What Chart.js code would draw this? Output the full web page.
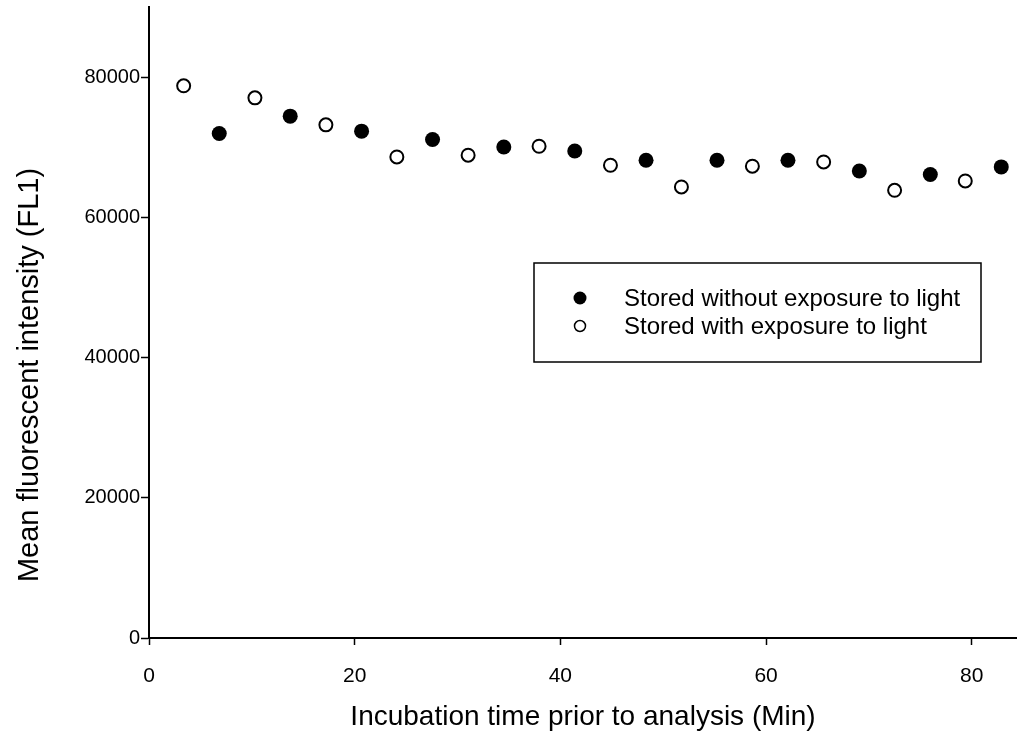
<!DOCTYPE html>
<html lang="en">
<head>
    <meta charset="UTF-8">
    <title>Mean fluorescent intensity</title>
    <script src="https://cdn.jsdelivr.net/npm/chart.js"></script>
    <style>
        html, body { margin: 0; padding: 0; background: #fff; }
    </style>
</head>
<body>
    <canvas id="myChart" width="1017" height="747"></canvas>

<script>
    // incubation time (min) and mean FL1 for each storage condition
    var darkTimes  = [6.83, 13.73, 20.67, 27.57, 34.50, 41.40, 48.33, 55.23, 62.13, 69.07, 75.97, 82.87];
    var darkValues = [71960, 74430, 72290, 71100, 70040, 69470, 68140, 68140, 68140, 66610, 66100, 67190];

    var lightTimes  = [3.37, 10.30, 17.20, 24.10, 31.03, 37.93, 44.87, 51.77, 58.67, 65.60, 72.50, 79.37];
    var lightValues = [78760, 77040, 73190, 68610, 68860, 70140, 67430, 64330, 67290, 67900, 63860, 65190];

    var seriesNames = ["Stored without exposure to light", "Stored with exposure to light"];
    var xTicks = [0, 20, 40, 60, 80];
    var yTicks = [0, 20000, 40000, 60000, 80000];
    var xTitle = "Incubation time prior to analysis (Min)";
    var yTitle = "Mean fluorescent intensity (FL1)";

    var FONT = "'Liberation Sans', Arial, sans-serif";

    function f_points(xs, ys){
        var v_pts = [];
        for(var i=0; i<xs.length; i++){
            v_pts.push({x: xs[i], y: ys[i]});
        }
        return v_pts;
    }

    // legend drawn as a framed box inside the plot area
    var legendBox = {
        id: "legendBox",
        afterDraw: function(chart){
            var ctx = chart.ctx;
            var x0 = 534, y0 = 263, w = 447, h = 99;
            ctx.save();
            ctx.lineWidth = 1.5;
            ctx.strokeStyle = "#000";
            ctx.strokeRect(x0, y0, w, h);
            ctx.font = "24px " + FONT;
            ctx.textBaseline = "middle";
            var rows = [298, 326];
            chart.data.datasets.forEach(function(ds, i){
                ctx.beginPath();
                if(i == 0){
                    ctx.arc(580, rows[i], 6.5, 0, Math.PI*2);
                    ctx.fillStyle = "#000";
                    ctx.fill();
                } else {
                    ctx.arc(580, rows[i], 5.5, 0, Math.PI*2);
                    ctx.fillStyle = "#fff";
                    ctx.fill();
                    ctx.lineWidth = 1.5;
                    ctx.stroke();
                }
                ctx.fillStyle = "#000";
                ctx.fillText(ds.label, 624, rows[i] + 1);
            });
            ctx.restore();
        }
    };

    // y title sits a little below the middle of the axis
    var yTitleText = {
        id: "yTitleText",
        afterDraw: function(chart){
            var ctx = chart.ctx;
            ctx.save();
            ctx.translate(30, 375);
            ctx.rotate(-Math.PI/2);
            ctx.font = "29px " + FONT;
            ctx.fillStyle = "#000";
            ctx.textAlign = "center";
            ctx.textBaseline = "middle";
            ctx.fillText(yTitle, 0, 0);
            ctx.restore();
        }
    };

    const ctx = document.getElementById('myChart').getContext('2d');
    const myChart = new Chart(ctx, {
        type: 'scatter',
        data: {
            datasets: [{
                    label: seriesNames[0],
                    data: f_points(darkTimes, darkValues),
                    pointRadius: 7.5,
                    pointBackgroundColor: "#000",
                    pointBorderColor: "#000",
                    pointBorderWidth: 0
                },
                {
                    label: seriesNames[1],
                    data: f_points(lightTimes, lightValues),
                    pointRadius: 6.5,
                    pointBackgroundColor: "#fff",
                    pointBorderColor: "#000",
                    pointBorderWidth: 2
                }
            ]
        },
        options: {
            responsive: false,
            animation: false,
            layout: { autoPadding: false, padding: { top: 7, right: 0, left: 0, bottom: 0 } },
            plugins: {
                legend: { display: false },
                tooltip: { enabled: false }
            },
            scales: {
                x: {
                    type: 'linear',
                    min: 0,
                    max: 84.4,
                    afterFit: function(s){ s.height = 109; s.paddingLeft = 0; s.paddingRight = 0; },
                    afterBuildTicks: function(s){ s.ticks = xTicks.map(function(v){ return {value: v}; }); },
                    grid: { drawOnChartArea: false, drawTicks: true, tickLength: 7, tickWidth: 1.5, tickColor: "#000" },
                    border: { display: true, color: "#000", width: 2 },
                    ticks: { color: "#000", padding: 19, maxRotation: 0, font: { family: FONT, size: 21 } },
                    title: {
                        display: true,
                        text: xTitle,
                        color: "#000",
                        font: { family: FONT, size: 28 },
                        padding: { top: 0, bottom: 13 }
                    }
                },
                y: {
                    min: 0,
                    max: 90000,
                    afterFit: function(s){ s.width = 149; s.paddingTop = 0; s.paddingBottom = 0; },
                    afterBuildTicks: function(s){ s.ticks = yTicks.map(function(v){ return {value: v}; }); },
                    grid: { drawOnChartArea: false, drawTicks: true, tickLength: 8, tickWidth: 1.5, tickColor: "#000" },
                    border: { display: true, color: "#000", width: 2 },
                    ticks: {
                        color: "#000",
                        padding: 1,
                        font: { family: FONT, size: 20 },
                        callback: function(v){ return String(v); }
                    }
                }
            }
        },
        plugins: [legendBox, yTitleText]
    });
</script>
</body>
</html>
